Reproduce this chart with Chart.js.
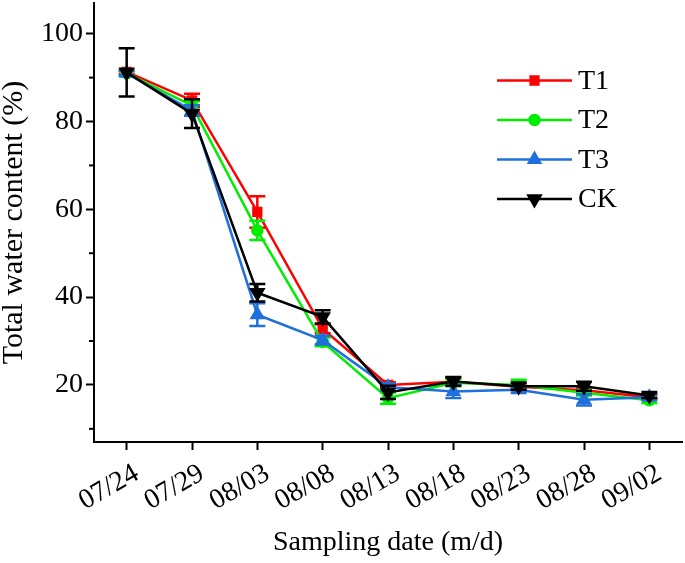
<!DOCTYPE html>
<html>
<head>
<meta charset="utf-8">
<script src="https://cdn.jsdelivr.net/npm/chart.js@4"></script>
<style>
  html, body { margin: 0; padding: 0; background: #fff; }
</style>
</head>
<body>
<canvas id="waterChart" width="685" height="563"></canvas>
<script>
const dates = ['07/24', '07/29', '08/03', '08/08', '08/13', '08/18', '08/23', '08/28', '09/02'];
const t1 = [91.3, 84.8, 59.4, 32.8, 20.0, 20.7, 19.6, 18.8, 17.2];
const t1Err = [0.5, 1.5, 3.6, 1.0, 0.6, 0.8, 0.6, 0.6, 0.5];
const t2 = [91.0, 83.6, 55.2, 29.8, 17.0, 20.5, 20.0, 18.2, 16.5];
const t2Err = [0.5, 1.0, 2.2, 1.0, 1.3, 0.8, 1.2, 0.6, 0.6];
const t3 = [91.0, 82.5, 36.0, 30.2, 19.5, 18.5, 18.9, 16.6, 17.2];
const t3Err = [0.5, 1.2, 2.6, 1.0, 0.8, 1.5, 0.7, 1.3, 0.6];
const ck = [91.2, 81.8, 41.0, 35.5, 18.3, 20.8, 19.7, 19.7, 17.6];
const ckErr = [5.5, 3.3, 2.0, 1.5, 1.5, 1.0, 0.8, 1.0, 0.6];
const yTicks = [10, 20, 30, 40, 50, 60, 70, 80, 90, 100];

const serif = '"Liberation Serif", "Times New Roman", serif';
Chart.defaults.font.family = serif;
Chart.defaults.color = '#000';

// error bars, drawn right after each dataset
const errorBars = {
  id: 'errorBars',
  afterDatasetDraw(chart, args) {
    const ds = chart.data.datasets[args.index];
    const y = chart.scales.y;
    const ctx = chart.ctx;
    ctx.save();
    ctx.strokeStyle = ds.borderColor;
    ctx.lineWidth = 2.5;
    args.meta.data.forEach((pt, i) => {
      const top = y.getPixelForValue(ds.data[i] + ds.errors[i]);
      const bot = y.getPixelForValue(ds.data[i] - ds.errors[i]);
      ctx.beginPath();
      ctx.moveTo(pt.x, top); ctx.lineTo(pt.x, bot);
      ctx.moveTo(pt.x - 8, top); ctx.lineTo(pt.x + 8, top);
      ctx.moveTo(pt.x - 8, bot); ctx.lineTo(pt.x + 8, bot);
      ctx.stroke();
    });
    ctx.restore();
  }
};

// minor y ticks + legend inside the plot
const extras = {
  id: 'extras',
  afterDraw(chart) {
    const ctx = chart.ctx;
    const y = chart.scales.y;
    const area = chart.chartArea;
    ctx.save();
    ctx.strokeStyle = '#000';
    ctx.lineWidth = 2;
    yTicks.filter(v => v % 20 !== 0).forEach(v => {
      const py = y.getPixelForValue(v);
      ctx.beginPath(); ctx.moveTo(area.left - 5, py); ctx.lineTo(area.left, py); ctx.stroke();
    });

    const sets = chart.data.datasets.slice().sort((a, b) => b.order - a.order);
    sets.forEach((ds, i) => {
      const ly = 80.5 + i * 39.5;
      ctx.strokeStyle = ds.borderColor;
      ctx.fillStyle = ds.borderColor;
      ctx.lineWidth = 2.5;
      ctx.beginPath(); ctx.moveTo(497, ly); ctx.lineTo(572, ly); ctx.stroke();
      Chart.helpers.drawPoint(ctx, {
        pointStyle: ds.pointStyle, radius: ds.pointRadius,
        rotation: ds.pointRotation || 0, borderWidth: 1
      }, 534.5, ly);
      ctx.fillStyle = '#000';
      ctx.font = '28px ' + serif;
      ctx.textBaseline = 'middle';
      ctx.fillText(ds.label, 578, ly + 1);
    });
    ctx.restore();
  }
};

const series = (label, data, errors, color, style, radius, order, rotation) => ({
  label, data, errors, order,
  borderColor: color, backgroundColor: color,
  pointBackgroundColor: color, pointBorderColor: color,
  borderWidth: 2.5, pointStyle: style, pointRadius: radius,
  pointRotation: rotation || 0, tension: 0
});

const waterCtx = document.getElementById('waterChart').getContext('2d');
const waterChart = new Chart(waterCtx, {
  type: 'line',
  data: {
    labels: dates,
    datasets: [
      series('T1', t1, t1Err, '#ff0000', 'rect', 5.5, 3),
      series('T2', t2, t2Err, '#00ee00', 'circle', 5, 2),
      series('T3', t3, t3Err, '#1f6fdc', 'triangle', 6.5, 1),
      series('CK', ck, ckErr, '#000000', 'triangle', 7, 0, 180)
    ]
  },
  options: {
    responsive: false,
    animation: false,
    layout: { autoPadding: false, padding: { top: 3, right: 3, left: 0, bottom: 0 } },
    plugins: { legend: { display: false }, tooltip: { enabled: false } },
    scales: {
      x: {
        offset: true,
        afterFit: s => { s.height = 121; s.paddingLeft = 0; s.paddingRight = 0; },
        border: { color: '#000', width: 2 },
        grid: { drawOnChartArea: false, offset: false, tickLength: 8, tickWidth: 2, tickColor: '#000' },
        ticks: { color: '#000', font: { size: 28 }, minRotation: 30, maxRotation: 30, autoSkip: false, padding: 7, labelOffset: 10 },
        title: { display: true, text: 'Sampling date (m/d)', color: '#000', font: { size: 28 }, padding: { top: 0, bottom: 4 } }
      },
      y: {
        min: 7,
        max: 107,
        afterBuildTicks: s => { s.ticks = yTicks.map(v => ({ value: v })); },
        afterFit: s => { s.width = 94; s.paddingTop = 0; s.paddingBottom = 0; },
        border: { color: '#000', width: 2 },
        grid: {
          drawOnChartArea: false, tickLength: 8, tickWidth: 2,
          tickColor: c => (c.tick && c.tick.value % 20 === 0) ? '#000' : 'rgba(0,0,0,0)'
        },
        ticks: { color: '#000', font: { size: 28 }, padding: 3, callback: v => (v % 20 === 0 ? v : '') },
        title: { display: true, text: 'Total water content (%)', color: '#000', font: { size: 30, lineHeight: 1 }, padding: { top: -1 } }
      }
    }
  },
  plugins: [errorBars, extras]
});
</script>
</body>
</html>
